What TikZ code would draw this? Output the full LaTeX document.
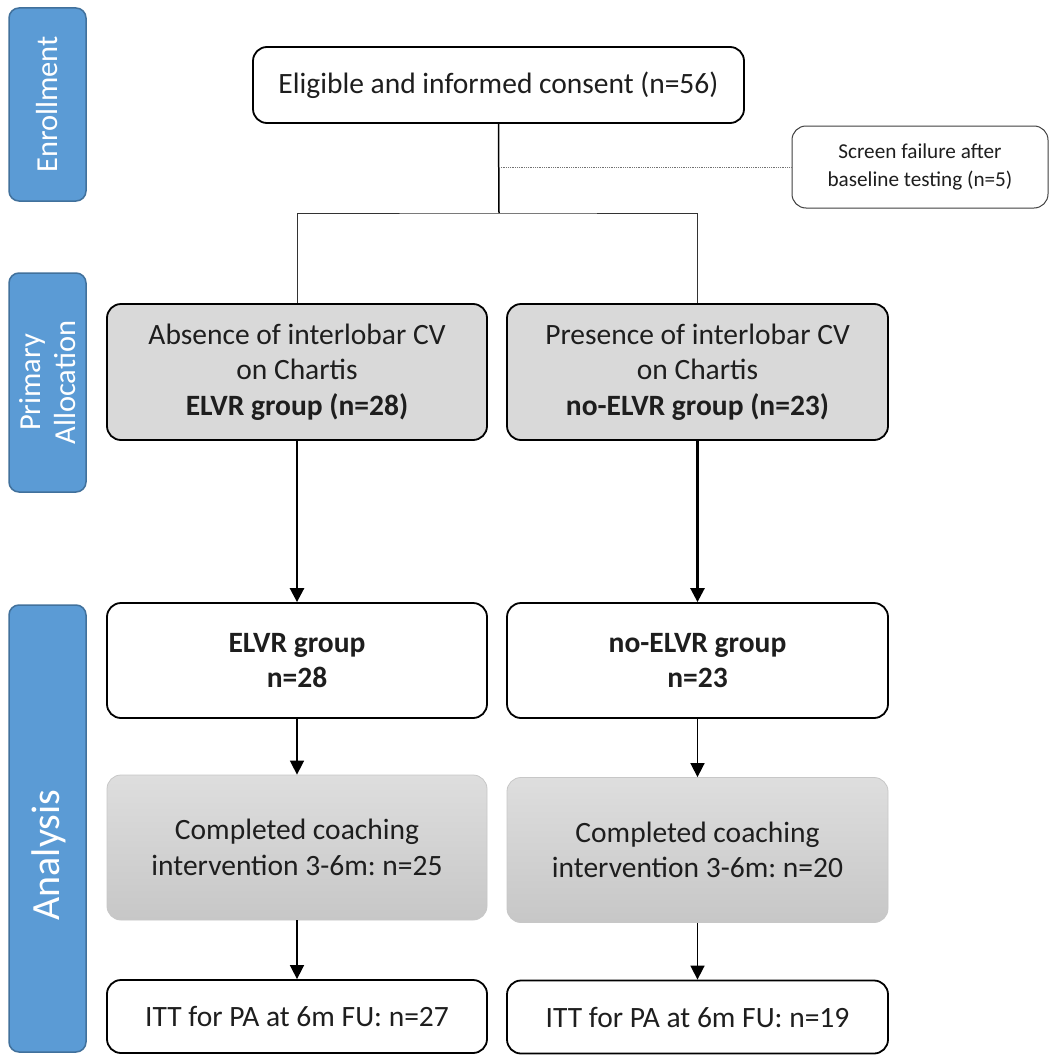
\documentclass[tikz,border=0pt]{standalone}
\usepackage{fontspec}
\setmainfont{Carlito}
\usetikzlibrary{arrows.meta,shadings}
\definecolor{sideblue}{HTML}{5B9BD5}
\definecolor{sideedge}{HTML}{41719C}
\definecolor{boxgray}{HTML}{D9D9D9}
\definecolor{txt}{HTML}{1E1E1E}
\tikzset{
  x=1pt, y=-1pt,
  side/.style={draw=sideedge, line width=1.5pt, fill=sideblue, rounded corners=10pt,
    rotate=90, text=white, align=center, inner sep=0pt,
    font=\fontsize{30.5}{35}\selectfont},
  mainbox/.style={draw=black, line width=1.8pt, rounded corners=14pt, align=center,
    inner sep=0pt, text=txt, font=\fontsize{29.5}{35.5}\selectfont},
  whitebox/.style={mainbox, fill=white},
  graybox/.style={mainbox, fill=boxgray},
  coachbox/.style={mainbox, draw=black!22, line width=0.8pt, top color=black!13, bottom color=black!22},
  smallbox/.style={draw=black!75, line width=1pt, rounded corners=14pt, fill=white, align=center,
    inner sep=0pt, text=txt, font=\fontsize{21.2}{27.5}\selectfont},
  thinline/.style={draw=black!80, line width=1pt},
  arrowthick/.style={draw=black, line width=2.6pt, -{Triangle[length=14pt,width=14pt]}},
  arrowthin/.style={draw=black, line width=1.6pt, -{Triangle[length=14pt,width=14pt]}},
  dotline/.style={draw=black!55, line width=0.8pt, dash pattern=on 1pt off 0.8pt}
}
\begin{document}
\frenchspacing
\begin{tikzpicture}
\useasboundingbox[fill=white] (0,0) rectangle (1051,1057);

% sidebars
\node[side, minimum width=193, minimum height=77] (sEnr) at (47.5,104.5) {Enrollment};
\node[side, minimum width=219, minimum height=77] (sAll) at (47.5,382.5) {Primary\\Allocation};
\node[side, minimum width=447, minimum height=77] (sAna) at (47.5,828.5) {};
\node[rotate=90, text=white, inner sep=0pt, font=\fontsize{40}{44}\selectfont] (tAna) at (49,855) {Analysis};

% boxes
\node[whitebox, minimum width=491, minimum height=76] (top) at (498.5,85) {Eligible and informed consent (n=56)};
\node[smallbox, minimum width=256, minimum height=82] (scr) at (920,167) {Screen failure after\\baseline testing (n=5)};

\node[graybox, minimum width=380, minimum height=136] (pal) at (297,372)
  {Absence of interlobar CV\\on Chartis\\\textbf{ELVR group (n=28)}};
\node[graybox, minimum width=381, minimum height=136] (par) at (697.5,372)
  {Presence of interlobar CV\\on Chartis\\\textbf{no-ELVR group (n=23)}};

\node[whitebox, minimum width=380, minimum height=115] (gl) at (297,660.5) {\textbf{ELVR group}\\\textbf{n=28}};
\node[whitebox, minimum width=381, minimum height=115] (gr) at (697.5,660.5) {\textbf{no-ELVR group}\\\textbf{n=23}};

\node[coachbox, minimum width=380, minimum height=145] (cl) at (297,847.5) {Completed coaching\\intervention 3-6m: n=25};
\node[coachbox, minimum width=381, minimum height=145] (cr) at (697.5,850) {Completed coaching\\intervention 3-6m: n=20};

\node[whitebox, minimum width=380, minimum height=73] (il) at (297,1016.5) {ITT for PA at 6m FU: n=27};
\node[whitebox, minimum width=381, minimum height=73] (ir) at (697.5,1017) {ITT for PA at 6m FU: n=19};

% connectors
\coordinate (split) at (499,213);
\coordinate (dot) at (499,167);
\draw[draw=black, line width=1.5pt] (top.south) -- (split);
\draw[thinline] (pal.north) |- (split) -| (par.north);
\draw[dotline] (dot) -- (scr.west);

\draw[arrowthick] (pal.south) -- (gl.north);
\draw[arrowthick] (par.south) -- (gr.north);
\draw[arrowthin] (gl.south) -- (cl.north);
\draw[arrowthin] (gr.south) -- (cr.north);
\draw[arrowthin] (cl.south) -- (il.north);
\draw[arrowthin] (cr.south) -- (ir.north);
\end{tikzpicture}
\end{document}
